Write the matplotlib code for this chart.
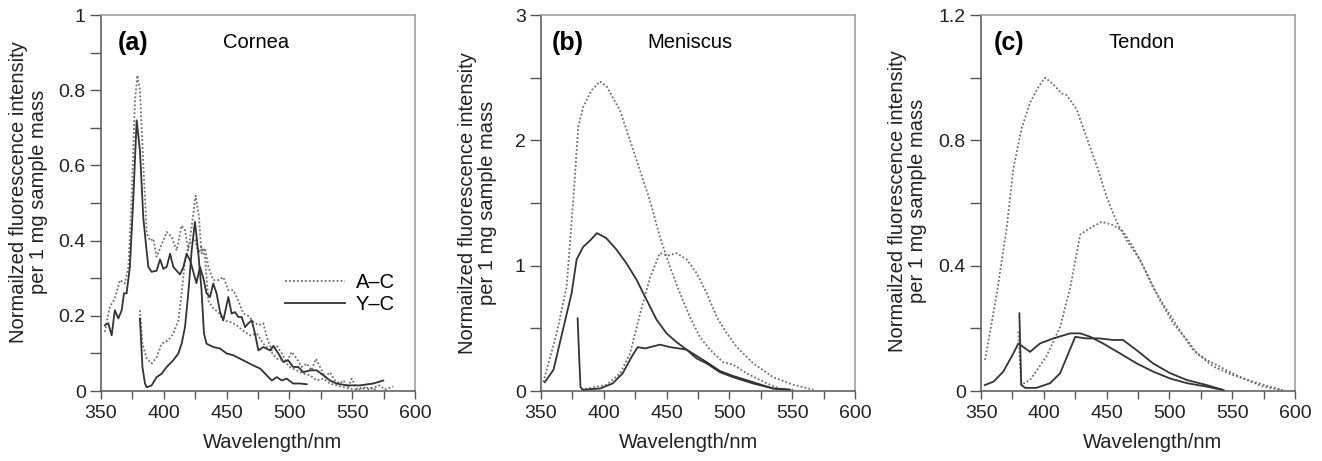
import numpy as np
import matplotlib.pyplot as plt

plt.rcParams['font.family'] = ['Liberation Sans', 'DejaVu Sans']

# ---- (a) Cornea ----
a_ac1_wl = [353, 357, 361, 365, 369, 371.8, 374.4, 377, 379, 381, 383.7, 386.4, 389, 391.7, 394.3,
            398.3, 402.3, 406.3, 410.2, 414.2, 416.9, 419.5, 422.2, 425.4, 428, 430, 432.8, 435.5,
            439.4, 443.4, 447.4, 451.4, 455.4, 459.3, 463.3, 467.3, 471.3, 475.3, 479.3, 481.9, 486,
            490, 494, 497.8, 501.8, 505.8, 509.8, 513.8, 517.7, 521.2, 524.4, 528.4, 532.3, 536.3,
            540.3, 543, 547, 549.6, 553.6, 559, 564, 572, 576, 582.8]
a_ac1_val = [0.157, 0.224, 0.246, 0.295, 0.286, 0.33, 0.51, 0.77, 0.84, 0.80, 0.6, 0.42, 0.40, 0.405,
             0.357, 0.39, 0.423, 0.41, 0.374, 0.44, 0.428, 0.374, 0.437, 0.52, 0.463, 0.366, 0.38,
             0.33, 0.295, 0.295, 0.303, 0.268, 0.268, 0.24, 0.206, 0.2, 0.184, 0.175, 0.18, 0.144,
             0.108, 0.12, 0.1, 0.077, 0.104, 0.086, 0.064, 0.073, 0.055, 0.086, 0.064, 0.037, 0.05,
             0.028, 0.02, 0.028, 0.01, 0.033, 0.006, 0.01, 0.004, 0.015, 0.004, 0.012]
a_ac2_wl = [381, 383, 386.4, 390.3, 394.3, 398.3, 403.6, 407.6, 411.6, 414.2, 416.9, 419.5, 422.2,
            424.8, 427.5, 430, 432.8, 435.5, 439.4, 443.4, 447.4, 452.7, 458, 463.3, 468.6, 474,
            479.3, 484.6, 490, 495.2, 500.5, 505.8, 511, 516.4, 521.7, 527, 532.3, 537.6, 543, 548,
            556, 564, 569.5]
a_ac2_val = [0.215, 0.126, 0.086, 0.073, 0.09, 0.126, 0.135, 0.153, 0.188, 0.26, 0.348, 0.383, 0.40,
             0.405, 0.366, 0.383, 0.357, 0.24, 0.22, 0.21, 0.188, 0.184, 0.175, 0.16, 0.148, 0.153,
             0.126, 0.108, 0.086, 0.082, 0.064, 0.055, 0.046, 0.042, 0.028, 0.033, 0.02, 0.015, 0.01,
             0.006, 0.004, 0.01, 0.002]
a_yc1_wl = [353, 355.8, 358.5, 361, 363.8, 366.5, 368.3, 370.4, 373, 375.7, 378.4, 381, 383.7, 386.4,
            387.7, 390.3, 394.3, 397, 399.6, 402.3, 405, 407.6, 410.2, 412.9, 415.6, 418.2, 420.9,
            426, 428.8, 431.5, 434, 436.8, 439.4, 442, 444.8, 447.4, 451.4, 454, 456.7, 459.3, 462,
            464.7, 467.3, 470, 472.6, 475.3, 479.3, 484.6, 487.2, 491.2, 495.2, 499, 503, 507, 511,
            516.4, 521.7, 527, 532.3, 537.6, 545.6, 556, 566.8, 574.8]
a_yc1_val = [0.175, 0.18, 0.148, 0.215, 0.193, 0.215, 0.26, 0.26, 0.33, 0.51, 0.72, 0.64, 0.46, 0.37,
             0.33, 0.317, 0.32, 0.35, 0.325, 0.33, 0.365, 0.33, 0.32, 0.31, 0.33, 0.365, 0.348,
             0.287, 0.33, 0.30, 0.26, 0.25, 0.286, 0.26, 0.21, 0.188, 0.25, 0.206, 0.21, 0.197,
             0.197, 0.17, 0.18, 0.188, 0.153, 0.108, 0.117, 0.108, 0.12, 0.1, 0.077, 0.082, 0.064,
             0.064, 0.05, 0.055, 0.055, 0.042, 0.028, 0.02, 0.015, 0.015, 0.02, 0.028]
a_yc2_wl = [381, 383, 385, 386.4, 390.3, 394.3, 398.3, 402.3, 407.6, 411.6, 414.2, 416.9, 419.5,
            422.2, 424.8, 427.5, 430, 432, 434, 439.4, 444.8, 450, 455.4, 460.7, 466, 471.3, 476.6,
            481.9, 486, 490, 494, 497.8, 503, 508.4, 513.8]
a_yc2_val = [0.193, 0.064, 0.02, 0.01, 0.015, 0.037, 0.046, 0.064, 0.082, 0.1, 0.126, 0.17, 0.26,
             0.374, 0.45, 0.366, 0.27, 0.153, 0.126, 0.117, 0.113, 0.1, 0.095, 0.086, 0.077, 0.068,
             0.06, 0.042, 0.028, 0.037, 0.028, 0.033, 0.02, 0.02, 0.018]

# ---- (b) Meniscus ----
b_ac1_wl = [351.9, 362.5, 370.4, 375.7, 379.7, 383.7, 390.3, 397, 402.3, 412.9, 420.9, 428.8, 436.8,
            444.7, 452.7, 460.7, 468.6, 476.6, 484.6, 495, 503, 514, 530, 540, 551]
b_ac1_val = [0.072, 0.46, 0.83, 1.52, 2.11, 2.27, 2.40, 2.47, 2.43, 2.24, 2.00, 1.76, 1.52, 1.23,
             0.99, 0.78, 0.59, 0.43, 0.33, 0.23, 0.21, 0.14, 0.06, 0.02, 0.01]
b_ac2_wl = [382.4, 402.3, 413, 421, 429, 437, 444.7, 451, 458, 466, 474, 482, 490, 498, 506, 519,
            535, 551, 567]
b_ac2_val = [0.01, 0.05, 0.14, 0.30, 0.62, 0.91, 1.10, 1.08, 1.10, 1.05, 0.94, 0.78, 0.59, 0.46,
             0.35, 0.22, 0.11, 0.05, 0.01]
b_yc1_wl = [353, 360, 368, 374.4, 378.4, 383.6, 389, 394.6, 402, 410, 418, 426, 434, 442, 450, 458,
            466, 474, 482, 492.5, 503, 519, 535, 548]
b_yc1_val = [0.07, 0.17, 0.51, 0.78, 1.05, 1.15, 1.20, 1.26, 1.22, 1.13, 1.02, 0.89, 0.73, 0.57,
             0.46, 0.39, 0.33, 0.26, 0.22, 0.15, 0.11, 0.06, 0.02, 0.01]
b_yc2_wl = [379.2, 380.5, 381.5, 383.4, 397, 407, 415, 422, 427, 433, 444.7, 453, 466, 474, 482,
            492.5, 503, 519, 535, 548]
b_yc2_val = [0.58, 0.25, 0.03, 0.01, 0.02, 0.06, 0.14, 0.27, 0.35, 0.34, 0.37, 0.35, 0.33, 0.28,
             0.23, 0.16, 0.12, 0.07, 0.02, 0.01]

# ---- (c) Tendon ----
c_ac1_wl = [353.2, 362.5, 370.4, 375.7, 382.4, 389, 395.6, 401, 407.3, 414, 418, 426, 434, 442, 450,
            458, 466, 476.6, 487, 497.8, 508, 519, 529.7, 540, 550.6, 561.5, 574.6, 590]
c_ac1_val = [0.099, 0.31, 0.52, 0.71, 0.84, 0.92, 0.97, 1.00, 0.98, 0.95, 0.945, 0.90, 0.81, 0.72,
             0.62, 0.54, 0.48, 0.42, 0.33, 0.26, 0.195, 0.13, 0.099, 0.078, 0.056, 0.035, 0.014, 0.003]
c_ac2_wl = [379.7, 382, 389, 402, 413, 421, 429, 437, 446, 455, 463, 471, 482, 492.5, 503, 514, 522,
            535, 550.6, 566.8, 580, 590]
c_ac2_val = [0.19, 0.02, 0.035, 0.11, 0.205, 0.33, 0.50, 0.52, 0.54, 0.53, 0.51, 0.46, 0.375, 0.29,
             0.216, 0.163, 0.12, 0.078, 0.051, 0.03, 0.014, 0.003]
c_yc1_wl = [353, 360, 367.7, 375.7, 379.7, 389, 397, 407.6, 421, 429, 437, 447, 460.7, 474, 487,
            500.5, 514, 529.7, 543]
c_yc1_val = [0.019, 0.03, 0.062, 0.12, 0.152, 0.125, 0.152, 0.168, 0.184, 0.184, 0.173, 0.152, 0.12,
             0.088, 0.062, 0.04, 0.025, 0.014, 0.003]
c_yc2_wl = [380.5, 382, 385, 394, 405, 413, 419.5, 425, 433.4, 444, 455, 463, 474, 487, 500.5, 514,
            529.7, 543]
c_yc2_val = [0.248, 0.02, 0.01, 0.01, 0.025, 0.057, 0.12, 0.173, 0.168, 0.168, 0.163, 0.163, 0.13,
             0.088, 0.057, 0.035, 0.019, 0.003]

x_ticks = [350, 400, 450, 500, 550, 600]
a_yticks = [0, 0.2, 0.4, 0.6, 0.8, 1]
a_ylabels = ['0', '0.2', '0.4', '0.6', '0.8', '1']
b_yticks = [0, 1, 2, 3]
b_ylabels = ['0', '1', '2', '3']
c_yticks = [0, 0.4, 0.8, 1.2]
c_ylabels = ['0', '0.4', '0.8', '1.2']

panels = [
    ('(a)', 'Cornea', a_ac1_wl, a_ac1_val, a_ac2_wl, a_ac2_val, a_yc1_wl, a_yc1_val, a_yc2_wl, a_yc2_val,
     a_yticks, a_ylabels),
    ('(b)', 'Meniscus', b_ac1_wl, b_ac1_val, b_ac2_wl, b_ac2_val, b_yc1_wl, b_yc1_val, b_yc2_wl, b_yc2_val,
     b_yticks, b_ylabels),
    ('(c)', 'Tendon', c_ac1_wl, c_ac1_val, c_ac2_wl, c_ac2_val, c_yc1_wl, c_yc1_val, c_yc2_wl, c_yc2_val,
     c_yticks, c_ylabels),
]

# posiciones a mano
lefts = [0.0764, 0.4092, 0.7421]
tag_x = [0.054, 0.035, 0.04]
name_x = [0.388, 0.338, 0.405]
ylab_pos = [(-0.169, 0.53), (-0.14, 0.50), (-0.172, 0.505)]
xlab_pos = [0.545, 0.47, 0.545]

fig = plt.figure(figsize=(13.22, 4.61), dpi=100)

dot_style = dict(color='#6e6e6e', linestyle=(0, (1, 1.2)), linewidth=1.3)
sol_style = dict(color='#333333', linestyle='-', linewidth=1.3)

for i, p in enumerate(panels):
    tag, name, w1, v1, w2, v2, w3, v3, w4, v4, yt, yl = p
    ax = fig.add_axes([lefts[i], 0.1518, 0.2375, 0.8156])
    ax.plot(w1, v1, label='A\u2013C', **dot_style)
    ax.plot(w2, v2, **dot_style)
    ax.plot(w3, v3, label='Y\u2013C', **sol_style)
    ax.plot(w4, v4, **sol_style)

    ax.set_xlim(350, 600)
    ax.set_ylim(0, yt[-1])
    ax.set_xticks(x_ticks)
    ax.set_xticks(np.arange(375, 600, 25), minor=True)
    ax.set_yticks(yt)
    ax.set_yticklabels(yl)
    ax.set_yticks(np.arange(yt[1] / 2, yt[-1], yt[1]), minor=True)
    ax.tick_params(axis='both', which='both', direction='out', colors='#555555',
                   labelcolor='#222222', labelsize=14, width=1.0)
    ax.tick_params(axis='y', which='both', length=8, pad=3)
    ax.tick_params(axis='x', which='both', length=6, pad=4)

    for s in ['left', 'bottom']:
        ax.spines[s].set_color('#555555')
        ax.spines[s].set_linewidth(1.1)
    for s in ['top', 'right']:
        ax.spines[s].set_color('#999999')
        ax.spines[s].set_linewidth(1.1)

    ax.set_xlabel('Wavelength/nm', fontsize=14.5, color='#222222')
    ax.xaxis.set_label_coords(xlab_pos[i], -0.112)
    ax.set_ylabel('Normailzed fluorescence intensity\nper 1 mg sample mass', fontsize=14.5,
                  color='#222222', linespacing=1.05)
    ax.yaxis.set_label_coords(*ylab_pos[i])

    ax.text(tag_x[i], 0.926, tag, transform=ax.transAxes, fontsize=18, fontweight='bold',
            va='center', ha='left')
    ax.text(name_x[i], 0.926, name, transform=ax.transAxes, fontsize=14.5, va='center', ha='left')

    if i == 0:
        ax.legend(loc='center left', bbox_to_anchor=(0.586, 0.259), frameon=False, fontsize=14.5,
                  handlelength=3.0, handletextpad=0.5, borderpad=0, labelspacing=0.15,
                  borderaxespad=0)

fig.savefig('out.png', dpi=100)
